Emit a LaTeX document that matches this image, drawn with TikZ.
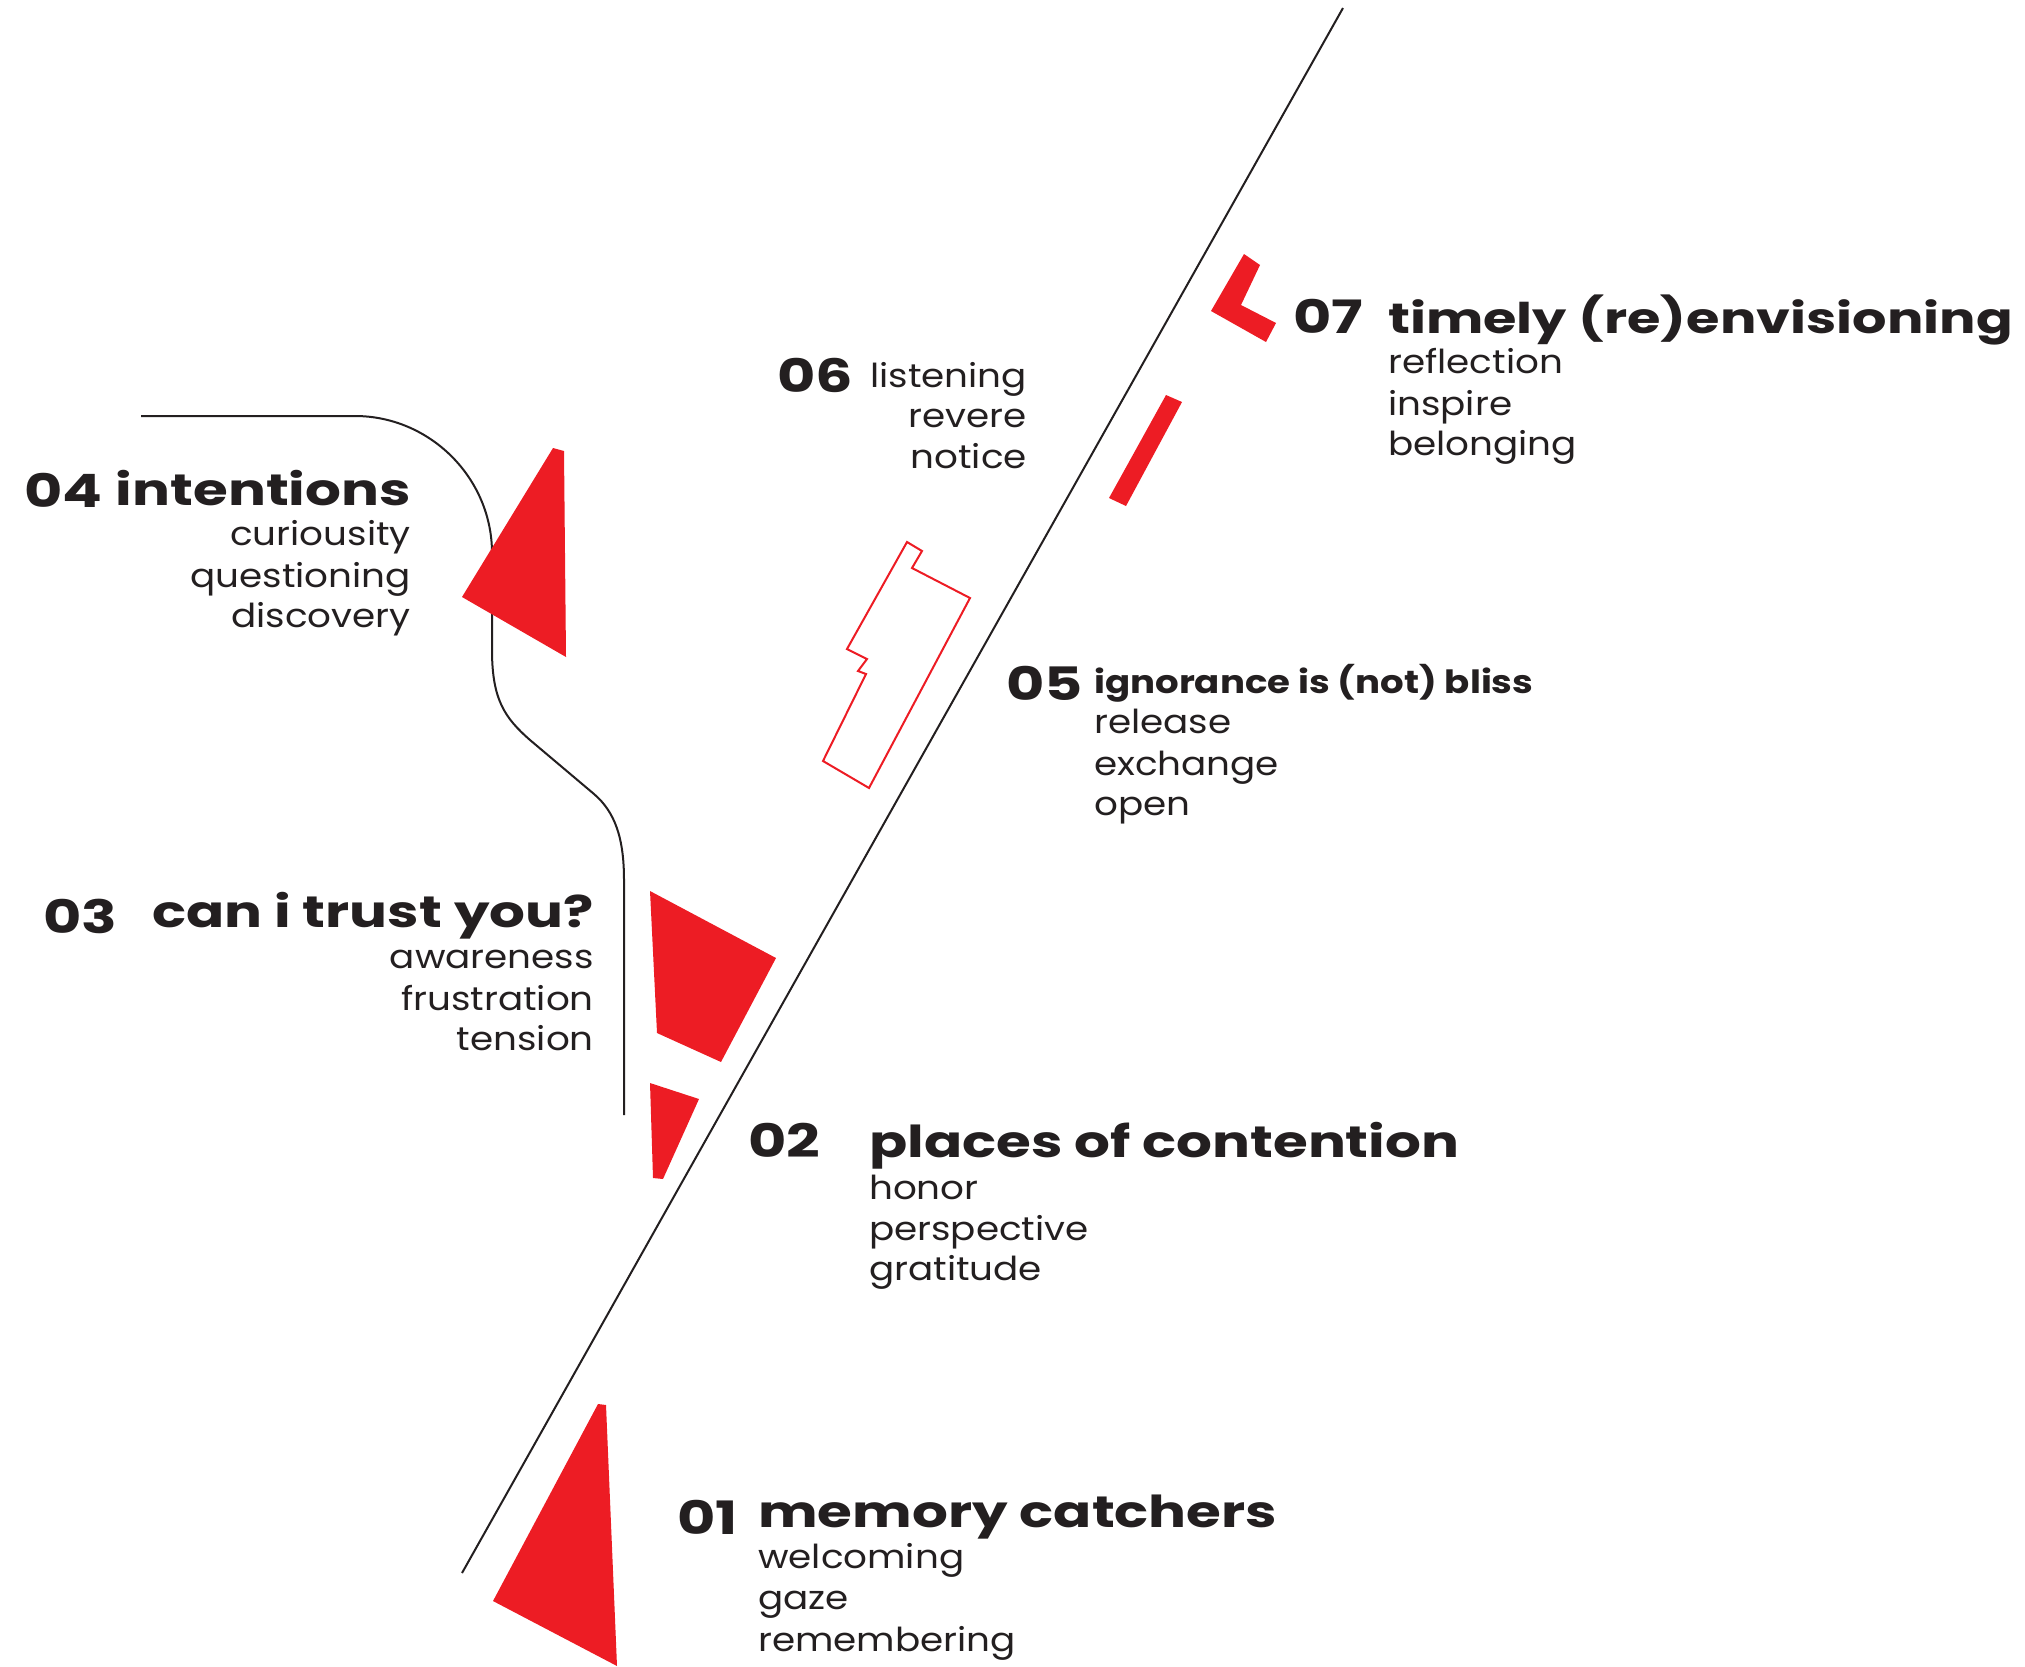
\documentclass[tikz,border=0pt]{standalone}
\usepackage{fontspec}
\setmainfont{Poppins}
\newfontfamily\wideface[FakeStretch=1.28]{Poppins}
\newfontfamily\midface[FakeStretch=1.16]{Poppins}
\newfontfamily\itemface[FakeStretch=1.13]{Poppins}
\definecolor{markred}{HTML}{ED1C24}
\definecolor{inkgrey}{HTML}{231F20}
\tikzset{
  numlabel/.style={font=\wideface\fontsize{46}{46}\selectfont\bfseries, text=inkgrey, inner sep=0pt},
  headlabel/.style={font=\wideface\fontsize{44}{44}\selectfont\bfseries, text=inkgrey, inner sep=0pt},
  longhead/.style={font=\wideface\fontsize{42.3}{42.3}\selectfont\bfseries, text=inkgrey, inner sep=0pt},
  smallhead/.style={font=\midface\fontsize{32}{32}\selectfont\bfseries, text=inkgrey, inner sep=0pt},
  itemlabel/.style={font=\itemface\fontsize{33}{33}\selectfont, text=inkgrey, inner sep=0pt},
  marker/.style={fill=markred},
  outline/.style={draw=markred, line width=2pt},
  trail/.style={draw=inkgrey, line width=2pt}
}
\begin{document}
\begin{tikzpicture}[x=1pt,y=-1pt]
\useasboundingbox (0,0) rectangle (2025,1666);
\coordinate (axis south) at (462,1573);
\coordinate (axis north) at (1343,8);
\draw[trail] (axis south) -- (axis north);
\draw[trail] (141,416) -- (355,416) .. controls (430,416) and (492,478) .. (492,553) -- (492,650) .. controls (492,700) and (505,718) .. (530,740) -- (594,794) .. controls (615,812) and (624,838) .. (624,880) -- (624,1115);
\fill[marker] (598,1404) -- (606,1405) -- (617,1666) -- (493,1601) -- cycle;
\fill[marker] (650,1083) -- (699,1099) -- (663,1179) -- (653,1178) -- cycle;
\fill[marker] (650,891) -- (776,958) -- (721,1062) -- (657,1033) -- cycle;
\fill[marker] (553,448) -- (564,451) -- (566,657) -- (462,597) -- cycle;
\draw[outline] (907,542) -- (922,551) -- (912,568) -- (970,598) -- (869,788) -- (823,761) -- (866,674) -- (858,671) -- (867,659) -- (847,649) -- cycle;
\fill[marker] (1166,395) -- (1182,402) -- (1126,506) -- (1109,498) -- cycle;
\fill[marker] (1244,254) -- (1260,265) -- (1241,305) -- (1276,323) -- (1266,342) -- (1211,311) -- cycle;
\node[numlabel, anchor=base west] (n01) at (677,1534) {01};
\node[headlabel, anchor=base west] (h01) at (758,1527) {memory catchers};
\node[itemlabel, anchor=base west] (i01a) at (758,1568) {welcoming};
\node[itemlabel, anchor=base west] (i01b) at (758,1609) {gaze};
\node[itemlabel, anchor=base west] (i01c) at (758,1651) {remembering};
\node[numlabel, anchor=base west] (n02) at (748,1157) {02};
\node[headlabel, anchor=base west] (h02) at (869,1157) {places of contention};
\node[itemlabel, anchor=base west] (i02a) at (869,1199) {honor};
\node[itemlabel, anchor=base west] (i02b) at (869,1240) {perspective};
\node[itemlabel, anchor=base west] (i02c) at (869,1280) {gratitude};
\node[numlabel, anchor=base west] (n03) at (43,933) {03};
\node[headlabel, anchor=base east] (h03) at (594,927) {can i trust you?};
\node[itemlabel, anchor=base east] (i03a) at (594,968) {awareness};
\node[itemlabel, anchor=base east] (i03b) at (594,1010) {frustration};
\node[itemlabel, anchor=base east] (i03c) at (594,1050) {tension};
\node[numlabel, anchor=base west] (n04) at (24,507) {04};
\node[headlabel, anchor=base east] (h04) at (411,505) {intentions};
\node[itemlabel, anchor=base east] (i04a) at (411,545) {curiousity};
\node[itemlabel, anchor=base east] (i04b) at (411,587) {questioning};
\node[itemlabel, anchor=base east] (i04c) at (411,627) {discovery};
\node[numlabel, anchor=base west] (n05) at (1006,700) {05};
\node[smallhead, anchor=base west] (h05) at (1094,693) {ignorance is (not) bliss};
\node[itemlabel, anchor=base west] (i05a) at (1094,733) {release};
\node[itemlabel, anchor=base west] (i05b) at (1094,775) {exchange};
\node[itemlabel, anchor=base west] (i05c) at (1094,815) {open};
\node[numlabel, anchor=base west] (n06) at (777,392) {06};
\node[itemlabel, anchor=base east] (i06a) at (1027,387) {listening};
\node[itemlabel, anchor=base east] (i06b) at (1027,427) {revere};
\node[itemlabel, anchor=base east] (i06c) at (1027,468) {notice};
\node[numlabel, anchor=base west] (n07) at (1293,333) {07};
\node[longhead, anchor=base west] (h07) at (1388,333) {timely (re)envisioning};
\node[itemlabel, anchor=base west] (i07a) at (1388,373) {reflection};
\node[itemlabel, anchor=base west] (i07b) at (1388,415) {inspire};
\node[itemlabel, anchor=base west] (i07c) at (1388,455) {belonging};
\end{tikzpicture}
\end{document}
